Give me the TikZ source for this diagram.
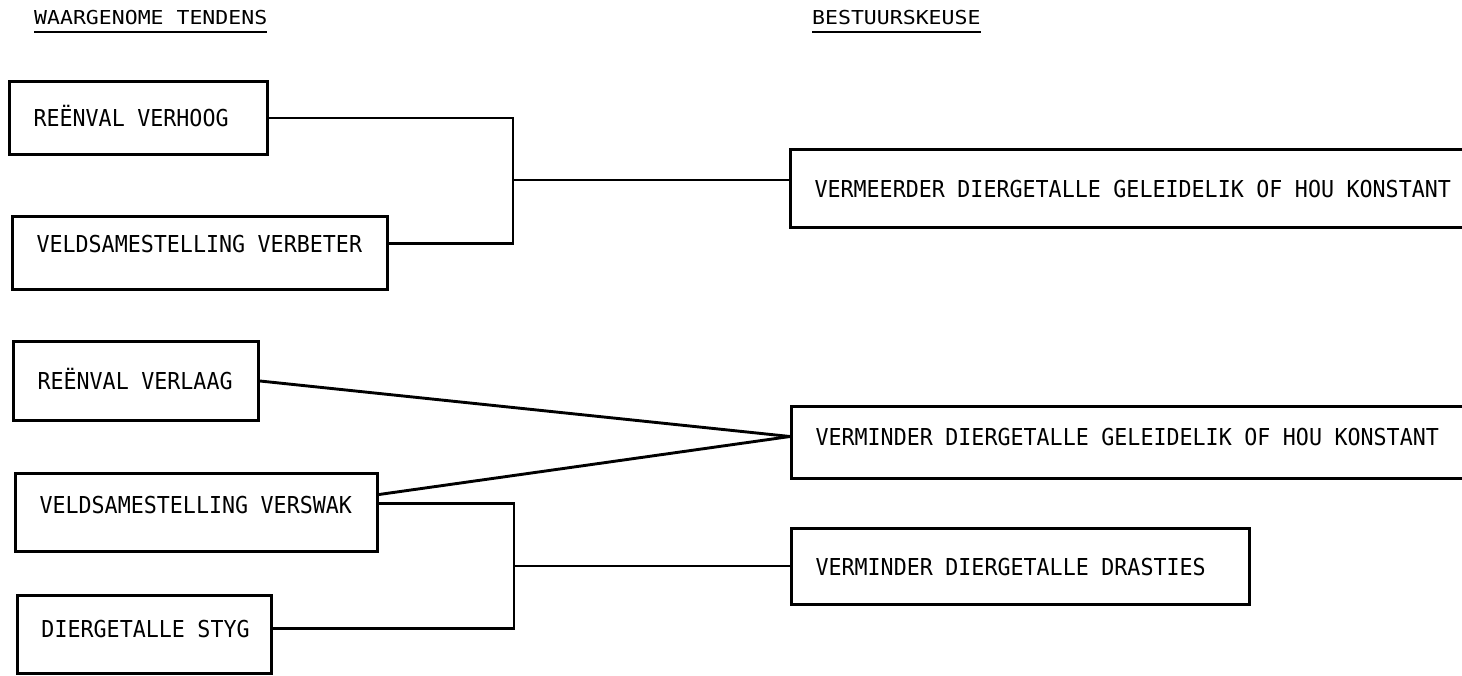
\documentclass[tikz,border=0pt]{standalone}
\usepackage{fontspec}
\newfontfamily\plotfont{DejaVu Sans Mono}[FakeStretch=0.93]
\newfontfamily\headfont{DejaVu Sans Mono}[FakeStretch=1.12]
\newcommand\widespaces{\spaceskip=12.5pt\relax}
\begin{document}
\begin{tikzpicture}[x=1pt,y=-1pt,
  tbox/.style={draw, line width=3pt, anchor=north west, inner xsep=24pt, inner ysep=0pt,
    align=left, font=\plotfont\fontsize{23.3pt}{28pt}\selectfont,
    execute at begin node=\widespaces,
    text height=17pt, text depth=0pt},
  conn/.style={line width=2.9pt},
  head/.style={anchor=base west, inner sep=0pt, font=\headfont\fontsize{19.2pt}{23pt}\selectfont},
  uline/.style={line width=2.4pt}]
\useasboundingbox (0,0) rectangle (1462,675);
\clip (0,0) rectangle (1462,675);

% headers
\node[head] (h1) at (34,24) {WAARGENOME TENDENS};
\node[head] (h2) at (812,24) {BESTUURSKEUSE};
\draw[uline] ([yshift=-8pt]h1.base west) -- ([yshift=-8pt]h1.base east);
\draw[uline] ([yshift=-8pt]h2.base west) -- ([yshift=-8pt]h2.base east);

% left boxes
\node[tbox, minimum width=258pt, minimum height=73pt, text width=210pt] (L1) at (8,80) {REËNVAL VERHOOG};
\node[tbox, minimum width=375pt, minimum height=73pt, text width=327pt] (L2) at (11,215) {\raisebox{9pt}[\height][\depth]{VELDSAMESTELLING VERBETER}};
\node[tbox, minimum width=245pt, minimum height=79pt, text width=197pt] (L3) at (12,340) {REËNVAL VERLAAG};
\node[tbox, minimum width=362pt, minimum height=78pt, text width=314pt] (L4) at (14,472) {\raisebox{8pt}[\height][\depth]{VELDSAMESTELLING VERSWAK}};
\node[tbox, minimum width=254pt, minimum height=78pt, text width=206pt] (L5) at (16,594) {\raisebox{6pt}[\height][\depth]{DIERGETALLE STYG}};

% right boxes
\node[tbox, minimum width=700pt, minimum height=78pt, text width=652pt] (R1) at (789,148) {VERMEERDER DIERGETALLE GELEIDELIK OF HOU KONSTANT};
\node[tbox, minimum width=700pt, minimum height=72pt, text width=652pt] (R2) at (790,405) {\raisebox{6pt}[\height][\depth]{VERMINDER DIERGETALLE GELEIDELIK OF HOU KONSTANT}};
\node[tbox, minimum width=458pt, minimum height=76pt, text width=410pt] (R3) at (790,527) {VERMINDER DIERGETALLE DRASTIES};

% junctions
\coordinate (j1) at (513,180);
\coordinate (j2) at (514,566);
\coordinate (d) at ([yshift=6pt]R2.west);

% upper bracket
\draw[conn] (L1.east) -| (j1);
\draw[conn] ([yshift=9.5pt]L2.east) -| (j1);
\draw[conn] (j1) -- (j1 -| R1.west);

% diagonals
\draw[conn] (L3.east) -- (d);
\draw[conn] ([yshift=18pt]L4.east) -- (d);

% lower bracket
\draw[conn] ([yshift=9pt]L4.east) -| (j2);
\draw[conn] ([yshift=6pt]L5.east) -| (j2);
\draw[conn] (j2) -- (j2 -| R3.west);
\end{tikzpicture}
\end{document}
